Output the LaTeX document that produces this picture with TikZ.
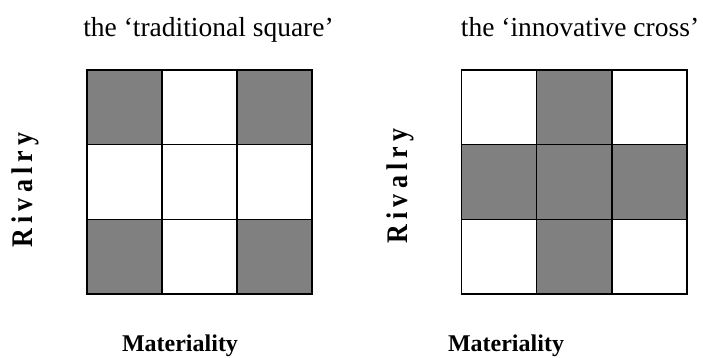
\documentclass[tikz,border=0pt]{standalone}
\usepackage{fontspec}
\setmainfont{Liberation Serif}
\usetikzlibrary{positioning}
\definecolor{pgray}{HTML}{808080}
\tikzset{
  % one square of a 3x3 matrix
  cell/.style  = {draw=black, line width=1.4pt, fill=#1},
  cell/.default = white,
  ttl/.style   = {font=\fontsize{27.5}{31}\selectfont, inner sep=0pt},
  axlbl/.style = {font=\fontsize{24}{28}\selectfont\bfseries, inner sep=0pt},
  sidelbl/.style = {font=\fontsize{26}{30}\selectfont\bfseries, inner sep=0pt,
                    rotate=90, yscale=1.15},
}
\newcommand{\lsp}{\hspace{0.2em}}

\begin{document}
\begin{tikzpicture}[x=1pt,y=-1pt]
\useasboundingbox (0,0) rectangle (703,358);
% traditional square: shaded corners
\foreach \c/\r/\f in {0/0/pgray,1/0/white,2/0/pgray,
                      0/1/white,1/1/white,2/1/white,
                      0/2/pgray,1/2/white,2/2/pgray} {
  \draw[cell=\f] (87+75*\c,70+74.7*\r) rectangle ++(75,74.7);
}
% innovative cross: shaded middle row and column
\foreach \c/\r/\f in {0/0/white,1/0/pgray,2/0/white,
                      0/1/pgray,1/1/pgray,2/1/pgray,
                      0/2/white,1/2/pgray,2/2/white} {
  \draw[cell=\f] (461.5+75.2*\c,70+74.7*\r) rectangle ++(75.2,74.7);
}
\node[ttl, anchor=base] (tsq) at (208.5,37) {the ‘traditional square’};
\node[ttl, anchor=base] (icr) at (580,37) {the ‘innovative cross’};
\node[sidelbl] (rivl) at (25,190) {R\lsp i\lsp v\lsp a\lsp l\lsp r\lsp y};
\node[sidelbl] (rivr) at (400,186) {R\lsp i\lsp v\lsp a\lsp l\lsp r\lsp y};
\node[axlbl, anchor=base] (matl) at (180,351) {Materiality};
\node[axlbl, anchor=base] (matr) at (506,351) {Materiality};
\end{tikzpicture}
\end{document}
